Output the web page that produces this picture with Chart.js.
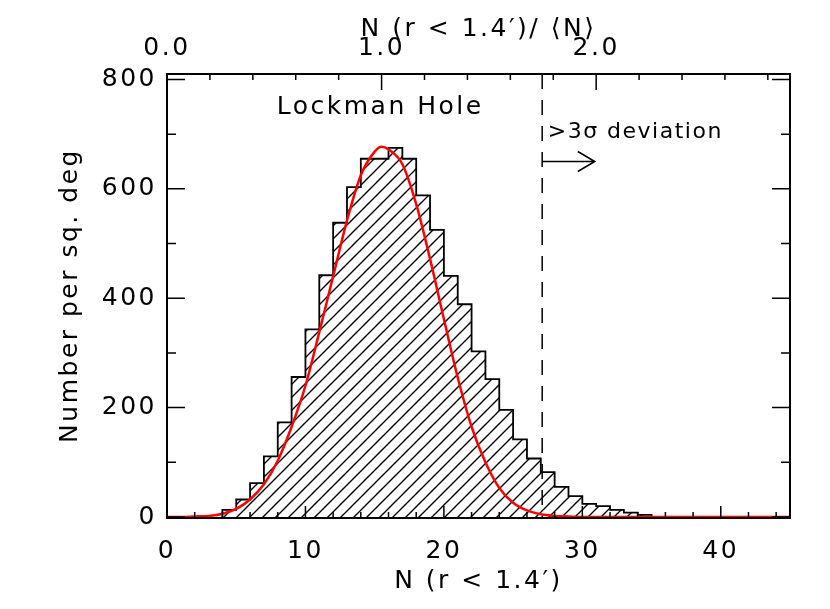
<!DOCTYPE html>
<html>
<head>
<meta charset="utf-8">
<title>Lockman Hole</title>
<script src="https://cdn.jsdelivr.net/npm/chart.js@4.4.1/dist/chart.umd.min.js"></script>
<style>
  html, body { margin: 0; padding: 0; background: #fff; }
  #wrap { width: 830px; height: 609px; }
</style>
</head>
<body>
<div id="wrap"><canvas id="histChart" width="830" height="609"></canvas></div>
<script>
// Histogram: left edge of each 1-wide bin and its height
const binLeft = [4, 5, 6, 7, 8, 9, 10, 11, 12, 13, 14, 15, 16, 17, 18, 19,
                 20, 21, 22, 23, 24, 25, 26, 27, 28, 29, 30, 31, 32, 33, 34];
const binCounts = [13, 32, 62, 111, 173, 256, 343, 442, 538, 603, 655, 655, 675, 655, 588, 525,
                   441, 389, 303, 252, 196, 142, 107, 82, 55, 38, 24, 20, 13, 8, 4];

// Red fitted curve
const fitX = [0, 1, 2, 3, 4, 5, 6, 7, 8, 9, 10, 11, 12, 13, 14, 15, 15.5, 16, 17, 18, 19,
              20, 21, 22, 23, 24, 25, 26, 27, 28, 29, 30, 35, 40, 45];
const fitY = [0, 0, 1, 2, 6, 15, 32, 60, 103, 165, 240, 338, 440, 542, 625, 668, 677, 672, 645, 572, 472,
              362, 255, 165, 100, 53, 26, 12, 5, 2, 1, 0, 0, 0, 0];

// Axes
const xTicks = [0, 10, 20, 30, 40];
const yTicks = [0, 200, 400, 600, 800];
const topTicks = [0, 1, 2];
const xMax = 45;
const yMax = 810;
const meanN = 15.5;      // <N>, sets the top axis
const cutN = 27.1;       // 3 sigma line
const arrowEnd = 30.9;
const arrowLevel = 650;

const LETTER = '2.5px';
const FONT = 'DejaVu Sans';

function makeHatch(ctx) {
    const s = 13;
    const c = document.createElement('canvas');
    c.width = s; c.height = s;
    const g = c.getContext('2d');
    g.strokeStyle = '#000';
    g.lineWidth = 1.4;
    g.beginPath();
    g.moveTo(0, s); g.lineTo(s, 0);
    g.moveTo(-s / 2, s / 2); g.lineTo(s / 2, -s / 2);
    g.moveTo(s / 2, s * 1.5); g.lineTo(s * 1.5, s / 2);
    g.stroke();
    return ctx.createPattern(c, 'repeat');
}

// histogram outline as a stepped line
const histPoints = [{ x: binLeft[0], y: 0 }];
binLeft.forEach((x, i) => histPoints.push({ x: x, y: binCounts[i] }));
histPoints.push({ x: binLeft[binLeft.length - 1] + 1, y: 0 });

const fitPoints = fitX.map((x, i) => ({ x: x, y: fitY[i] }));

const marks = {
    id: 'marks',
    beforeLayout(chart) { chart.ctx.letterSpacing = LETTER; },
    beforeDraw(chart) { chart.ctx.letterSpacing = LETTER; },
    afterDatasetsDraw(chart) {
        const { ctx, chartArea: a, scales } = chart;
        const x = scales.x, y = scales.y, xt = scales.xTop;
        const bot = a.bottom + 1;
        ctx.save();
        ctx.strokeStyle = '#000';
        ctx.lineWidth = 2;
        ctx.strokeRect(a.left, a.top, a.right - a.left, bot - a.top);

        // inward tick marks
        ctx.lineWidth = 1.5;
        ctx.beginPath();
        for (let v = 0; v <= xMax; v += 2) {
            const p = x.getPixelForValue(v);
            const len = v % 10 === 0 ? 12 : 6;
            ctx.moveTo(p, bot); ctx.lineTo(p, bot - len);
        }
        for (let k = 0; k <= Math.floor(xMax / meanN * 5); k++) {
            const v = k / 5;
            const p = xt.getPixelForValue(v);
            const len = k % 5 === 0 ? 16 : 6;
            ctx.moveTo(p, a.top); ctx.lineTo(p, a.top + len);
        }
        for (let v = 0; v <= yMax; v += 100) {
            const p = y.getPixelForValue(v);
            const len = v % 200 === 0 ? 18 : 9;
            ctx.moveTo(a.left, p); ctx.lineTo(a.left + len, p);
            ctx.moveTo(a.right, p); ctx.lineTo(a.right - len, p);
        }
        ctx.stroke();

        // 3 sigma dashed line
        const cx = x.getPixelForValue(cutN);
        ctx.setLineDash([15, 11]);
        ctx.beginPath();
        ctx.moveTo(cx, a.top); ctx.lineTo(cx, bot);
        ctx.stroke();
        ctx.setLineDash([]);

        // arrow
        const ay = y.getPixelForValue(arrowLevel);
        const ax = x.getPixelForValue(arrowEnd);
        ctx.beginPath();
        ctx.moveTo(cx, ay); ctx.lineTo(ax, ay);
        ctx.moveTo(ax - 17, ay - 10); ctx.lineTo(ax, ay); ctx.lineTo(ax - 17, ay + 10);
        ctx.stroke();

        // labels
        ctx.fillStyle = '#000';
        ctx.letterSpacing = LETTER;
        ctx.font = '25px "' + FONT + '"';
        ctx.textAlign = 'center';
        ctx.textBaseline = 'middle';
        ctx.fillText('Lockman Hole', x.getPixelForValue(15.4), y.getPixelForValue(748));
        ctx.letterSpacing = '1.5px';
        ctx.font = '22px "' + FONT + '"';
        ctx.textAlign = 'left';
        ctx.fillText('>3σ deviation', x.getPixelForValue(27.5), y.getPixelForValue(703));
        ctx.restore();
    }
};

const ctx = document.getElementById('histChart').getContext('2d');
const hatch = makeHatch(ctx);

Chart.defaults.font.family = FONT;
Chart.defaults.font.size = 25;
Chart.defaults.color = '#000';

new Chart(ctx, {
    type: 'line',
    data: {
        datasets: [
            {
                label: 'fit',
                data: fitPoints,
                borderColor: '#ff0000',
                borderWidth: 2.5,
                pointRadius: 0,
                cubicInterpolationMode: 'monotone',
                fill: false
            },
            {
                label: 'histogram',
                data: histPoints,
                borderColor: '#000',
                borderWidth: 1.8,
                pointRadius: 0,
                stepped: true,
                fill: 'origin',
                backgroundColor: hatch
            }
        ]
    },
    options: {
        responsive: false,
        animation: false,
        devicePixelRatio: 1,
        layout: { padding: { left: 0, right: 40, top: 0, bottom: 0 } },
        plugins: { legend: { display: false }, tooltip: { enabled: false } },
        scales: {
            x: {
                type: 'linear',
                position: 'bottom',
                min: 0,
                max: xMax,
                grid: { display: false },
                border: { display: false },
                afterBuildTicks: s => { s.ticks = xTicks.map(v => ({ value: v })); },
                afterFit: s => { s.height = 92; },
                ticks: { padding: 11, maxRotation: 0, callback: v => String(v) },
                title: { display: true, text: 'N (r < 1.4′)', padding: { top: 0, bottom: 13 } }
            },
            xTop: {
                type: 'linear',
                position: 'top',
                min: 0,
                max: xMax / meanN,
                grid: { display: false },
                border: { display: false },
                afterBuildTicks: s => { s.ticks = topTicks.map(v => ({ value: v })); },
                afterFit: s => { s.height = 74; },
                ticks: { padding: 3, maxRotation: 0, callback: v => v.toFixed(1) },
                title: { display: true, text: 'N (r < 1.4′)/ ⟨N⟩', padding: { top: 14, bottom: 0 } }
            },
            y: {
                type: 'linear',
                position: 'left',
                min: 0,
                max: yMax,
                grid: { display: false },
                border: { display: false },
                afterBuildTicks: s => { s.ticks = yTicks.map(v => ({ value: v })); },
                afterFit: s => { s.width = 167; },
                ticks: { padding: 2, callback: v => String(v) },
                title: { display: true, text: 'Number per sq. deg', padding: { top: 55, bottom: 0 } }
            }
        }
    },
    plugins: [marks]
});
</script>
</body>
</html>
